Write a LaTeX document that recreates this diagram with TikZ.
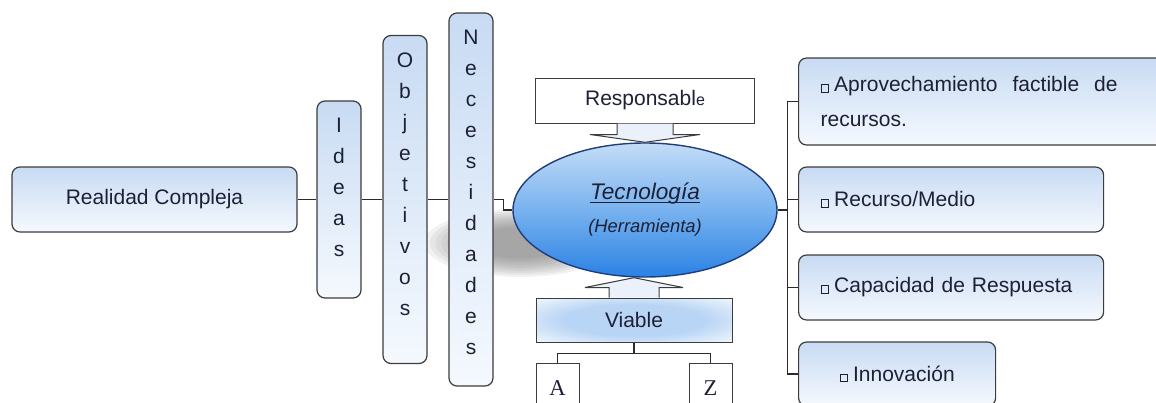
\documentclass[tikz,border=0pt]{standalone}
\usepackage{fontspec}
\setmainfont{Liberation Sans}
\newfontfamily\azfont{Liberation Serif}
\usepackage{tikz}
\usetikzlibrary{shapes,positioning,calc}
\usepackage{xcolor}
\definecolor{txt}{HTML}{1E2036}
\definecolor{boxline}{HTML}{3C3C3C}
\definecolor{linecol}{HTML}{2B2B2B}
\definecolor{boxtop}{HTML}{C8DBF3}
\definecolor{boxbot}{HTML}{F5F9FE}
\definecolor{elltop}{HTML}{C3DCF6}
\definecolor{ellmid}{HTML}{78B2EF}
\definecolor{ellbot}{HTML}{2A82E4}
\definecolor{elledge}{HTML}{1F3D7A}
\definecolor{callfill}{HTML}{EAF1FB}
\definecolor{glowblue}{HTML}{B9D5F5}
\definecolor{shadowgray}{HTML}{6E6E6E}
\newcommand{\cuadro}{{\setlength{\fboxsep}{0pt}\setlength{\fboxrule}{0.45pt}\fbox{\rule{0pt}{3.4pt}\hspace{3.4pt}}}\hspace{2.5pt}}
\newcommand{\subrayado}[1]{\setbox0\hbox{#1}\rlap{\rule[-1.7pt]{\wd0}{0.6pt}}\box0}
\pgfdeclareradialshading{glow}{\pgfpoint{0bp}{0bp}}{color(0bp)=(glowblue); color(18bp)=(glowblue); color(40bp)=(white); color(50bp)=(white)}

\begin{document}
\begin{tikzpicture}[x=0.5pt, y=-0.5pt,
  every node/.style={text=txt, font=\fontsize{10.5}{13}\selectfont},
  rbox/.style={draw=boxline, line width=0.6pt, rounded corners=4pt, top color=boxtop, bottom color=boxbot, inner sep=0pt},
  colbox/.style={rbox, minimum width=22pt, minimum height=#1},
  coltext/.style={align=center, inner sep=0pt, font=\fontsize{10.5}{15.5}\selectfont},
  plainbox/.style={draw=boxline, line width=0.5pt, fill=white, inner sep=0pt},
  conn/.style={draw=linecol, line width=0.6pt},
  pointer/.style={draw=boxline, line width=0.5pt, fill=callfill, line join=miter}
]
  \useasboundingbox (0,0) rectangle (1156,402);
  \foreach \r in {1,0.94,...,0.45}
    {\fill[shadowgray, opacity=0.09] (520,243) ellipse [x radius=\r*48pt, y radius=\r*17pt];}

  \node[rbox, minimum width=142.5pt, minimum height=32.5pt] (real) at (154.5,199.5) {Realidad Compleja};
  \node[colbox=98.5pt] (ideas) at (339,199.5) {};
  \node[colbox=164pt] (obj) at (405,199.5) {};
  \node[colbox=186.5pt] (nec) at (471,199.5) {};
  \foreach \n/\t in {ideas/{I\\d\\e\\a\\s}, obj/{O\\b\\j\\e\\t\\i\\v\\o\\s}, nec/{N\\e\\c\\e\\s\\i\\d\\a\\d\\e\\s}}
    {\node[coltext, below=8.7pt] (\n-txt) at (\n.north) {\t};}

  \node[ellipse, draw=elledge, line width=0.7pt, top color=elltop, bottom color=ellbot, middle color=ellmid,
        minimum width=132pt, minimum height=67pt, inner sep=0pt, align=center,
        font=\itshape\fontsize{11.3}{16.5}\selectfont] (tec) at (645,210)
        {\subrayado{Tecnología}\\{\fontsize{9.2}{16.5}\selectfont(Herramienta)}};

  \node[plainbox, minimum width=109.5pt, minimum height=22.5pt] (resp) at (645,100.5) {Responsabl{\fontsize{8}{8}\selectfont e}};
  \node[plainbox, shade, shading=glow, minimum width=98pt, minimum height=22pt] (via) at (634,320) {Viable};
  \foreach \n/\x/\t in {boxa/557.5/A, boxz/710.5/Z}
    {\node[plainbox, minimum width=21.5pt, minimum height=25pt, font=\azfont\fontsize{11.3}{13}\selectfont] (\n) at (\x,388) {\t};}

  \node[rbox, anchor=west, minimum width=188.5pt, minimum height=43.5pt, text width=166.5pt, inner xsep=11pt, align=left,
        font=\fontsize{10.5}{17.5}\selectfont] (aprov) at (798,101.5)
    {\makebox[148.5pt][l]{\cuadro Aprovechamiento\hfill factible\hfill de}\\recursos.};
  \node[rbox, anchor=west, minimum width=152.5pt, minimum height=32.5pt, text width=130.5pt, inner xsep=11pt, align=left] (rec) at (798,199.5) {\cuadro Recurso/Medio};
  \node[rbox, anchor=west, minimum width=152.5pt, minimum height=32.5pt, text width=130.5pt, inner xsep=11pt, align=left] (cap) at (798,287.5) {\cuadro Capacidad de Respuesta};
  \node[rbox, anchor=west, minimum width=98.5pt, minimum height=32pt] (innov) at (798,374) {\cuadro Innovación};

  \draw[pointer] ($(resp.south)+(-28,0)$) -- ++(0,11) -- ++(-27,0) -- (tec.north) -- ($(resp.south)+(55,11)$) -- ++(-27,0) -- ($(resp.south)+(28,0)$);
  \draw[pointer] ($(via.north)+(-25,0)$) -- ++(0,-10) -- ++(-24,0) -- (via.north |- tec.south) -- ($(via.north)+(49,-10)$) -- ++(-24,0) -- ($(via.north)+(25,0)$);

  \draw[conn] (real) -- (ideas);
  \draw[conn] (ideas) -- (obj);
  \draw[conn] (obj) -- (nec);
  \draw[conn] (nec.east) -- ++(10,0) |- (tec.west);
  \foreach \b in {aprov,rec,cap,innov}
    {\draw[conn] (tec.east) -- ++(10,0) |- (\b.west);}
  \draw[conn] (via.south) -- ++(0,11) -| (boxa.north);
  \draw[conn] (via.south) -- ++(0,11) -| (boxz.north);
\end{tikzpicture}
\end{document}
